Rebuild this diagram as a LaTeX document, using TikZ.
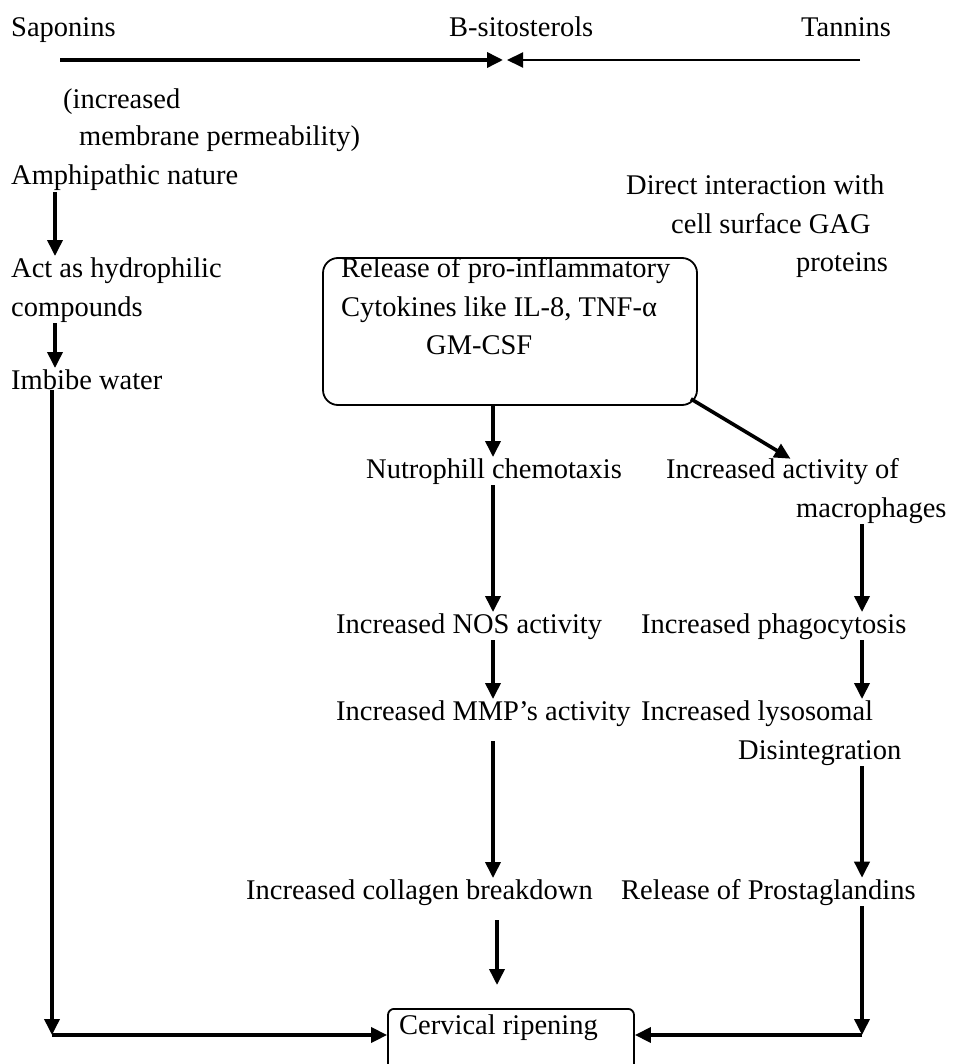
\documentclass[tikz,border=0pt]{standalone}
\usepackage{fontspec}
\setmainfont{Liberation Serif}
\usetikzlibrary{arrows.meta}
\begin{document}
\begin{tikzpicture}[x=1pt, y=-1pt,
                    every node/.style = {inner sep=1pt,
                        font=\fontsize{28.5}{34}\selectfont},
                    txt/.style = {anchor=base west},
                    arr/.style = {line width=3.6pt,
                        -{Triangle[width=15pt,length=16pt]}},
                    thinarr/.style = {line width=2pt,
                        -{Triangle[width=15pt,length=16pt]}},
                    bigbox/.style = {draw, line width=1.8pt, rounded corners=15pt,
                        minimum width=374pt, minimum height=147pt},
                    endbox/.style = {draw, line width=1.8pt, rounded corners=6pt,
                        minimum width=246pt, minimum height=90pt}]

        \useasboundingbox (0,0) rectangle (952,1064);

        \coordinate (lx) at (55,0);
        \coordinate (mx) at (493,0);
        \coordinate (bx) at (497,0);
        \coordinate (rx) at (862,0);

        \node[txt] (sap) at (10,37) {Saponins};
        \node[txt] (bsito) at (448,37) {B-sitosterols};
        \node[txt] (tan) at (800,37) {Tannins};
        \coordinate (topL) at (60,60);
        \coordinate (meetL) at (503,60);
        \coordinate (meetR) at (507,60);
        \coordinate (topR) at (860,60);

        \node[txt] (incr) at (62,109) {(increased};
        \node[txt] (memb) at (78,146) {membrane permeability)};
        \node[txt] (amph) at (10,185) {Amphipathic nature};
        \node[txt] (act) at (10,277) {Act as hydrophilic};
        \node[txt] (comp) at (10,316) {compounds};
        \node[txt] (imbibe) at (10,389) {Imbibe water};

        \node[txt] (direct) at (625,195) {Direct interaction with};
        \node[txt] (cellsurf) at (670,234) {cell surface GAG};
        \node[txt] (prot) at (795,272) {proteins};

        \node[bigbox] (release) at (510,331.5) {};
        \node[txt] (rel1) at (340,277) {Release of pro-inflammatory};
        \node[txt] (rel2) at (340,316) {Cytokines like IL-8, TNF-α};
        \node[txt] (rel3) at (425,354) {GM-CSF};

        \node[txt] (nutro) at (365,478) {Nutrophill chemotaxis};
        \node[txt] (incact) at (665,478) {Increased activity of};
        \node[txt] (macro) at (795,517) {macrophages};
        \node[txt] (nos) at (335,633) {Increased NOS activity};
        \node[txt] (phago) at (640,633) {Increased phagocytosis};
        \node[txt] (mmp) at (335,720) {Increased MMP's activity};
        \node[txt] (lyso) at (640,720) {Increased lysosomal};
        \node[txt] (disint) at (737,759) {Disintegration};
        \node[txt] (coll) at (245,899) {Increased collagen breakdown};
        \node[txt] (prost) at (620,899) {Release of Prostaglandins};

        \node[endbox, anchor=north] (cervbox) at (511,1008) {};
        \node[txt] (cerv) at (398,1034) {Cervical ripening};
        \coordinate (lturn) at (52,1035);
        \coordinate (rturn) at (862,1035);

        \draw[arr] (topL) -- (meetL);
        \draw[thinarr] (topR) -- (meetR);

        \draw[arr] (amph.south -| lx) -- (act.north -| lx);
        \draw[arr] (comp.south -| lx) -- (imbibe.north -| lx);
        \draw[arr] (imbibe.south -| lturn) -- (lturn);
        \draw[arr] (lturn) -- (lturn -| cervbox.west);

        \draw[arr] (release.south -| mx) -- (nutro.north -| mx);
        \draw[arr] ([xshift=-7pt,yshift=7pt]release.south east) -- ([xshift=8pt,yshift=-2pt]incact.north);
        \draw[arr] (nutro.south -| mx) -- (nos.north -| mx);
        \draw[arr] (nos.south -| mx) -- (mmp.north -| mx);
        \draw[arr, shorten <=14pt] (mmp.south -| mx) -- (coll.north -| mx);
        \draw[arr, shorten <=14pt, shorten >=23pt] (coll.south -| bx) -- (cervbox.north -| bx);

        \draw[arr] (macro.south -| rx) -- (phago.north -| rx);
        \draw[arr] (phago.south -| rx) -- (lyso.north -| rx);
        \draw[arr] (disint.south -| rx) -- (prost.north -| rx);
        \draw[arr] (prost.south -| rx) -- (rturn);
        \draw[arr] (rturn) -- (rturn -| cervbox.east);

\end{tikzpicture}
\end{document}
